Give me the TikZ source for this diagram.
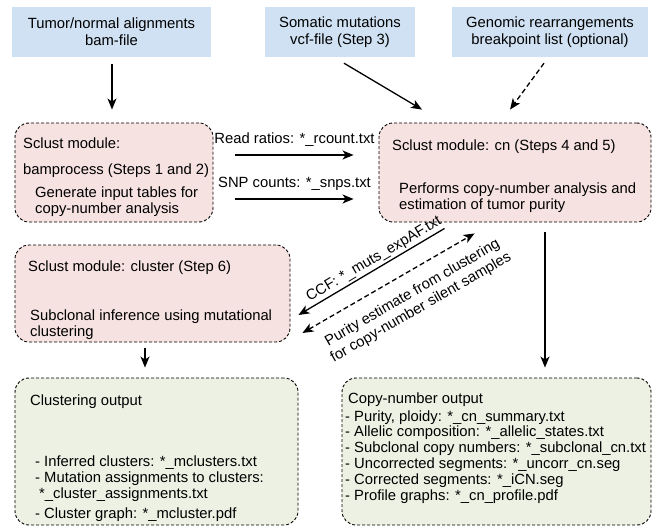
\documentclass[tikz,border=0pt]{standalone}
\usepackage{fontspec}
\setmainfont{Liberation Sans}
\usepackage{tikz}
\usetikzlibrary{arrows.meta,calc}

\definecolor{inblue}{RGB}{207,225,243}
\definecolor{modpink}{RGB}{246,226,225}
\definecolor{outgreen}{RGB}{237,241,227}

\begin{document}
\begin{tikzpicture}[x=1pt,y=-1pt,font=\fontsize{14.8}{17}\selectfont,
  >={Stealth[length=11pt,width=9pt,inset=3pt]},
  inbox/.style={fill=inblue,align=center,inner sep=0pt,minimum height=50pt},
  modbox/.style={draw,fill=modpink,rounded corners=14pt,dash pattern=on 3pt off 2pt,line width=0.9pt,inner sep=0pt},
  outbox/.style={modbox,fill=outgreen},
  txt/.style={anchor=base west,inner sep=0pt},
  lbl/.style={inner sep=0pt},
  arr/.style={->,line width=1.3pt},
  dshd/.style={dash pattern=on 5pt off 3pt}]
\useasboundingbox (0,0) rectangle (654,527);
% inputs
\node[inbox,minimum width=199pt] (inbam) at (111.5,32) {Tumor/normal alignments\\bam-file};
\node[inbox,minimum width=150pt] (invcf) at (340,32) {Somatic mutations\\vcf-file (Step 3)};
\node[inbox,minimum width=196pt] (inbrk) at (550,32) {Genomic rearrangements\\breakpoint list (optional)};
% modules
\node[modbox,minimum width=198pt,minimum height=99pt] (bamproc) at (114,172.5) {};
\node[modbox,minimum width=272pt,minimum height=99pt] (cnmod) at (515,172.5) {};
\node[modbox,minimum width=275pt,minimum height=97pt] (clustmod) at (152.5,293.5) {};
\node[txt] (bpt1) at (23,148) {Sclust module:};
\node[txt] (bpt2) at (23,174) {bamprocess (Steps 1 and 2)};
\node[txt] (bpt3) at (35,197) {Generate input tables for};
\node[txt] (bpt4) at (35,213) {copy-number analysis};
\node[txt] (cnt1) at (392,150) {Sclust module: cn (Steps 4 and 5)};
\node[txt] (cnt2) at (399,193) {Performs copy-number analysis and};
\node[txt] (cnt3) at (399,209) {estimation of tumor purity};
\node[txt] (clt1) at (28,271) {Sclust module: cluster (Step 6)};
\node[txt] (clt2) at (30,320) {Subclonal inference using mutational};
\node[txt] (clt3) at (30,336) {clustering};
% outputs
\node[outbox,minimum width=283pt,minimum height=147pt] (clustout) at (156.5,451.5) {};
\node[outbox,minimum width=309pt,minimum height=147pt] (cnout) at (496.5,451.5) {};
\node[txt] (cot0) at (30,405) {Clustering output};
\foreach \n/\x/\y/\t in {1/35/466/{- Inferred clusters: *\_mclusters.txt},2/35/482/{- Mutation assignments to clusters:},3/39/498/{*\_cluster\_assignments.txt},4/35/518/{- Cluster graph: *\_mcluster.pdf}}
  \node[txt] (cot\n) at (\x,\y) {\t};
\node[txt] (cno0) at (348,403) {Copy-number output};
\foreach \n/\t in {1/{- Purity, ploidy: *\_cn\_summary.txt},2/{- Allelic composition: *\_allelic\_states.txt},3/{- Subclonal copy numbers: *\_subclonal\_cn.txt},4/{- Uncorrected segments: *\_uncorr\_cn.seg},5/{- Corrected segments: *\_iCN.seg},6/{- Profile graphs: *\_cn\_profile.pdf}}
  \node[txt] (cno\n) at (345,{405.2+15.8*\n}) {\t};
% connectors
\draw[arr] ($(inbam.south)+(0.5,7)$) -- ($(bamproc.north)+(-2,-13)$);
\draw[arr] ($(invcf.south)+(4,6)$) -- ($(cnmod.north)+(-93,-13)$);
\draw[arr,dshd] ($(inbrk.south)+(-6,6)$) -- ($(cnmod.north)+(-5,-13)$);
\draw[arr] ($(bamproc.east)+(22,-17.5)$) -- ($(cnmod.west)+(-25,-17.5)$)
  node[lbl,midway,anchor=base,yshift=12pt] {Read ratios: *\_rcount.txt};
\draw[arr] ($(bamproc.east)+(22,26.5)$) -- ($(cnmod.west)+(-25,26.5)$)
  node[lbl,midway,anchor=base,yshift=12pt] {SNP counts: *\_snps.txt};
\draw[arr] ($(cnmod.south)+(30,10)$) -- ($(cnout.north)+(48.5,-10)$);
\draw[arr] ($(clustmod.south)+(-7.5,6)$) -- ($(clustout.north)+(-11.5,-10)$);
\draw[arr,<-] ($(clustmod.east)+(8,21.5)$) -- ($(cnmod.south west)+(66,6)$)
  node[lbl,pos=0.55,sloped,above=2pt] {CCF: *\_muts\_expAF.txt};
\draw[arr,<->,dshd] ($(clustmod.east)+(12,39.5)$) -- ($(cnmod.south west)+(96,11)$)
  node[lbl,pos=0.58,sloped,below=13pt,align=center] {Purity estimate from clustering\\for copy-number silent samples};
\end{tikzpicture}
\end{document}
